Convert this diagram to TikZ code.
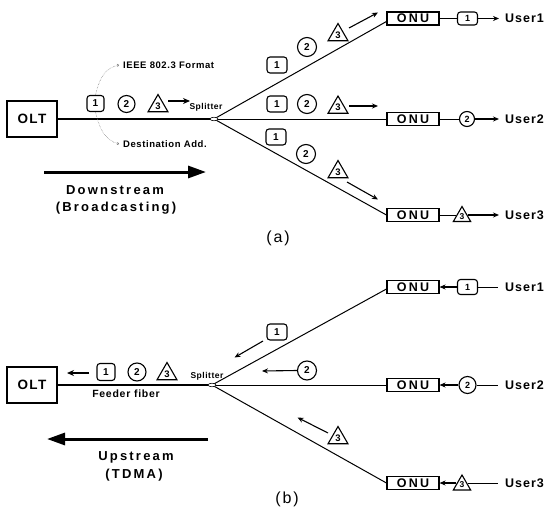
\documentclass[tikz,border=0pt]{standalone}
\usepackage{fontspec}
\setmainfont{Liberation Sans}
\usetikzlibrary{arrows.meta,shapes.geometric}
\newcommand{\fsz}[1]{\fontsize{#1}{#1}\selectfont}
\newcommand{\lsp}[1]{\addfontfeature{LetterSpace=#1}}
\tikzset{
  oltbox/.style={draw, line width=1.2pt, minimum width=50pt, minimum height=36pt, inner sep=0pt, font=\fsz{13.5}\bfseries\lsp{10}},
  onubox/.style={draw, line width=1.1pt, minimum width=52pt, minimum height=13pt, inner sep=0pt, fill=white, font=\fsz{12.5}\bfseries\lsp{18}},
  splt/.style={draw, ellipse, line width=0.6pt, minimum width=8pt, minimum height=3.5pt, inner sep=0pt, fill=white},
  pbox/.style={draw, rounded corners=3pt, line width=1.1pt, minimum width=17pt, minimum height=16pt, inner sep=0pt, fill=white, font=\fsz{10}\bfseries},
  pboxw/.style={pbox, minimum width=20pt},
  pcirc/.style={draw, circle, line width=1.1pt, minimum size=17pt, inner sep=0pt, fill=white, font=\fsz{10}\bfseries},
  ptri/.style={draw, regular polygon, regular polygon sides=3, line width=1.1pt, minimum size=23pt, inner sep=0pt, fill=white, font=\fsz{9.5}\bfseries},
  ubox/.style={pbox, minimum width=20pt, minimum height=13pt, font=\fsz{9}\bfseries},
  ucirc/.style={pcirc, minimum size=15pt, font=\fsz{9}\bfseries},
  utri/.style={ptri, minimum size=20pt, font=\fsz{8.5}\bfseries},
  feeder/.style={line width=1.7pt},
  fiber/.style={line width=1pt},
  arr/.style={line width=1.1pt, -{Stealth[length=6pt,width=5pt]}},
  parr/.style={line width=1.8pt, -{Stealth[length=7pt,width=6pt]}},
  bigarr/.style={line width=3pt, -{Triangle[length=18pt,width=12pt]}},
  callout/.style={densely dotted, black!55, line width=0.5pt, -{To[length=2pt,width=3pt]}},
  small/.style={font=\fsz{9.5}\bfseries\lsp{6}, inner sep=0pt},
  spl/.style={font=\fsz{8.5}\bfseries\lsp{6}, inner sep=0pt},
  big/.style={font=\fsz{13}\bfseries\lsp{17}, inner sep=0pt},
  user/.style={font=\fsz{12.5}\bfseries\lsp{8}, inner sep=0pt, anchor=west},
  caption/.style={font=\fsz{16}\lsp{12}, inner sep=0pt},
}
\begin{document}
\begin{tikzpicture}[x=1pt, y=-1pt]
\useasboundingbox (0,0) rectangle (549,511);

% ================= (a) =================
\node[oltbox] (olta) at (32,119) {OLT};
\node[onubox] (onua1) at (413,18.5) {ONU};
\node[onubox] (onua2) at (413,119) {ONU};
\node[onubox] (onua3) at (413,215) {ONU};
\draw[feeder] (olta.east) -- (214,119) coordinate (spca);
\draw[fiber] (spca) -- ([yshift=-3pt]onua1.west);
\draw[fiber] (spca) -- (onua2.west);
\draw[fiber] (spca) -- (onua3.west);
\node[splt] (spla) at (214,119) {};
\node[spl] (splta) at (206,107) {Splitter};

% feeder packets
\node[pbox] (fa1) at (95.5,103.5) {1};
\node[pcirc] (fa2) at (126.5,104) {2};
\node[ptri] (fa3) at (158,106) {3};
\coordinate (fas) at (168,101);
\coordinate (fae) at (190,101);
\draw[parr] (fas) -- (fae);

% callouts
\node[small, anchor=west] (ieee) at (123,65) {IEEE 802.3 Format};
\node[small, anchor=west] (dest) at (123,144) {Destination Add.};
\draw[callout] (fa1.north) .. controls (99,80) and (104,68) .. ([xshift=-4pt]ieee.west);
\draw[callout] (fa1.south) .. controls (99,127) and (104,140) .. ([xshift=-4pt]dest.west);

% downstream
\coordinate (dsa) at (44,172);
\coordinate (dsb) at (206,172);
\draw[bigarr] (dsa) -- (dsb);
\node[big] (dst1) at (115,190) {Downstream};
\node[big] (dst2) at (116,208) {(Broadcasting)};

% branch packets (a)
\node[pboxw] (b11) at (277,65) {1};
\node[pcirc, minimum size=19pt] (b12) at (307,47) {2};
\node[ptri] (b13) at (338,35) {3};
\coordinate (a1s) at (349,28); \coordinate (a1e) at (378,12.5);
\draw[arr] (a1s) -- (a1e);

\node[pboxw] (b21) at (277,104) {1};
\node[pcirc, minimum size=19pt] (b22) at (307,104) {2};
\node[ptri] (b23) at (338,107.5) {3};
\coordinate (a2s) at (349,106); \coordinate (a2e) at (378,106);
\draw[arr] (a2s) -- (a2e);

\node[pboxw] (b31) at (276,137) {1};
\node[pcirc, minimum size=19pt] (b32) at (306,154) {2};
\node[ptri] (b33) at (338,172) {3};
\coordinate (a3s) at (347,182); \coordinate (a3e) at (378,199.5);
\draw[arr] (a3s) -- (a3e);

% user side (a)
\node[ubox] (ua1) at (467.5,18.5) {1};
\node[ucirc] (ua2) at (467,119) {2};
\node[utri] (ua3) at (462,216.5) {3};
\node[user] (usa1) at (505,18.5) {User1};
\node[user] (usa2) at (505,119) {User2};
\node[user] (usa3) at (505,215) {User3};
\draw[line width=0.8pt] (onua1.east) -- (ua1.west);
\draw[line width=0.8pt] (onua2.east) -- (ua2.west);
\draw[line width=0.8pt] (onua3.east) -- (onua3.east -| ua3.west);
\draw[arr] (ua1.east) -- ([xshift=-6pt]usa1.west);
\draw[arr] (ua2.east) -- ([xshift=-6pt]usa2.west);
\draw[arr] (onua3.east -| ua3.east) -- ([xshift=-6pt]usa3.west);
\node[caption] (capa) at (278,238) {(a)};

% ================= (b) =================
\node[oltbox] (oltb) at (32,385) {OLT};
\node[onubox] (onub1) at (413,287) {ONU};
\node[onubox] (onub2) at (413,385) {ONU};
\node[onubox] (onub3) at (413,483) {ONU};
\draw[feeder] (oltb.east) -- (212,385) coordinate (spcb);
\draw[fiber] (spcb) -- ([yshift=-2pt]onub1.west);
\draw[fiber] (spcb) -- (onub2.west);
\draw[fiber] (spcb) -- (onub3.west);
\node[splt] (splb) at (212,385) {};
\node[spl] (spltb) at (207,376.5) {Splitter};
\node[font=\fsz{10.5}\bfseries\lsp{7}, inner sep=0pt] (feedt) at (126,394) {Feeder fiber};

% feeder packets (b)
\coordinate (fbs) at (89,373);
\coordinate (fbe) at (67,373);
\draw[parr] (fbs) -- (fbe);
\node[pbox, minimum width=18pt, minimum height=17pt] (fb1) at (106,372) {1};
\node[pcirc, minimum size=18pt] (fb2) at (137,372) {2};
\node[ptri, minimum size=23pt] (fb3) at (167,374) {3};

% upstream
\coordinate (usta) at (208,439);
\coordinate (ustb) at (47,439);
\draw[bigarr] (usta) -- (ustb);
\node[big] (ust1) at (136,457) {Upstream};
\node[big] (ust2) at (134,475) {(TDMA)};

% branch packets (b)
\node[pboxw] (c11) at (277,332) {1};
\coordinate (b1s) at (263,341); \coordinate (b1e) at (234.5,357.5);
\draw[arr] (b1s) -- (b1e);
\node[pcirc, minimum size=19pt] (c22) at (307,370.5) {2};
\coordinate (b2e) at (262,371);
\draw[arr] (c22.west) -- (b2e);
\node[ptri] (c33) at (338,438) {3};
\coordinate (b3s) at (328,433); \coordinate (b3e) at (297.5,417.5);
\draw[arr] (b3s) -- (b3e);

% user side (b)
\node[ubox, minimum height=15pt] (ub1) at (467.5,287) {1};
\node[ucirc, minimum size=17pt] (ub2) at (467.5,385) {2};
\node[utri] (ub3) at (462,485) {3};
\node[user] (usb1) at (505,287) {User1};
\node[user] (usb2) at (505,385) {User2};
\node[user] (usb3) at (505,483) {User3};
\draw[arr] (ub1.west) -- (onub1.east);
\draw[arr] (ub2.west) -- (onub2.east);
\draw[arr] (onub3.east -| ub3.west) -- (onub3.east);
\draw[line width=0.8pt] (ub1.east) -- ([xshift=-7pt]usb1.west);
\draw[line width=0.8pt] (ub2.east) -- ([xshift=-7pt]usb2.west);
\draw[line width=0.8pt] (onub3.east -| ub3.east) -- ([xshift=-7pt]usb3.west);
\node[caption] (capb) at (287,499) {(b)};
\end{tikzpicture}
\end{document}
